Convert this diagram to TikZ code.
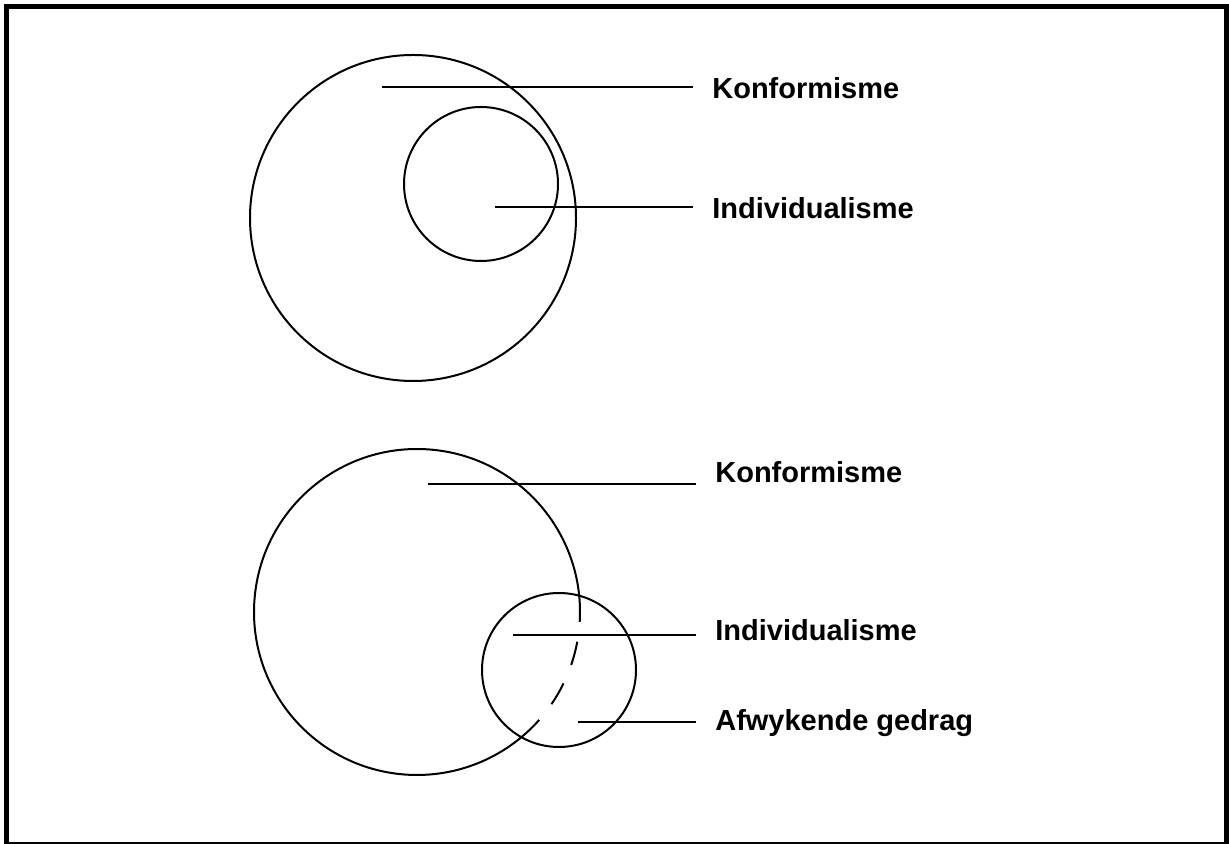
\documentclass[tikz,border=0pt]{standalone}
\usepackage{fontspec}
\setmainfont{Liberation Sans}
\usepackage{tikz}
\usetikzlibrary{positioning}

\tikzset{
  lbl/.style={anchor=base west, inner xsep=0.38cm, inner ysep=0pt, font=\fontsize{16.5}{20}\selectfont\bfseries},
  ring/.style={line width=0.04cm},
  lead/.style={line width=0.04cm}
}

\begin{document}
\begin{tikzpicture}[x=0.02cm, y=0.02cm]
  \useasboundingbox (0,0) rectangle (1229,844);
  % Frame
  \draw[line width=0.1cm] (6.5,0) -- (6.5,837.5) -- (1229,837.5);
  \draw[line width=0.1cm] (1226.5,0) -- (1226.5,837.5);
  \draw[line width=0.03cm] (6.5,1) -- (1229,1);

  % Top diagram
  \coordinate (bigA) at (413,626);
  \coordinate (smallA) at (481,660);
  \draw[ring] (bigA) circle[radius=163];
  \draw[ring] (smallA) circle[radius=77];
  \node[lbl] (konfA) at (693,745) {Konformisme};
  \node[lbl] (indiA) at (693,625) {Individualisme};
  \coordinate (konfAend) at (382,757);
  \coordinate (indiAend) at (495,637);
  \draw[lead] (konfAend) -- (konfAend -| konfA.west);
  \draw[lead] (indiAend) -- (indiAend -| indiA.west);

  % Bottom diagram
  \coordinate (bigB) at (417,232);
  \coordinate (smallB) at (559,174);
  \draw[ring] (bigB) ++(-3.5:163) arc[start angle=-3.5, end angle=316, radius=163];
  \draw[ring, dash pattern=on 0.48cm off 0.4cm, dash phase=0.48cm]
    (bigB) ++(-3.5:163) arc[start angle=-3.5, end angle=-44, radius=163];
  \draw[ring] (smallB) circle[radius=77];
  \node[lbl] (konfB) at (696,361) {Konformisme};
  \node[lbl] (indiB) at (696,203) {Individualisme};
  \node[lbl] (afwB) at (696,113) {Afwykende gedrag};
  \coordinate (konfBend) at (428,360);
  \coordinate (indiBend) at (513,209);
  \coordinate (afwBend) at (578,122);
  \draw[lead] (konfBend) -- (konfBend -| konfB.west);
  \draw[lead] (indiBend) -- (indiBend -| indiB.west);
  \draw[lead] (afwBend) -- (afwBend -| afwB.west);
\end{tikzpicture}
\end{document}
